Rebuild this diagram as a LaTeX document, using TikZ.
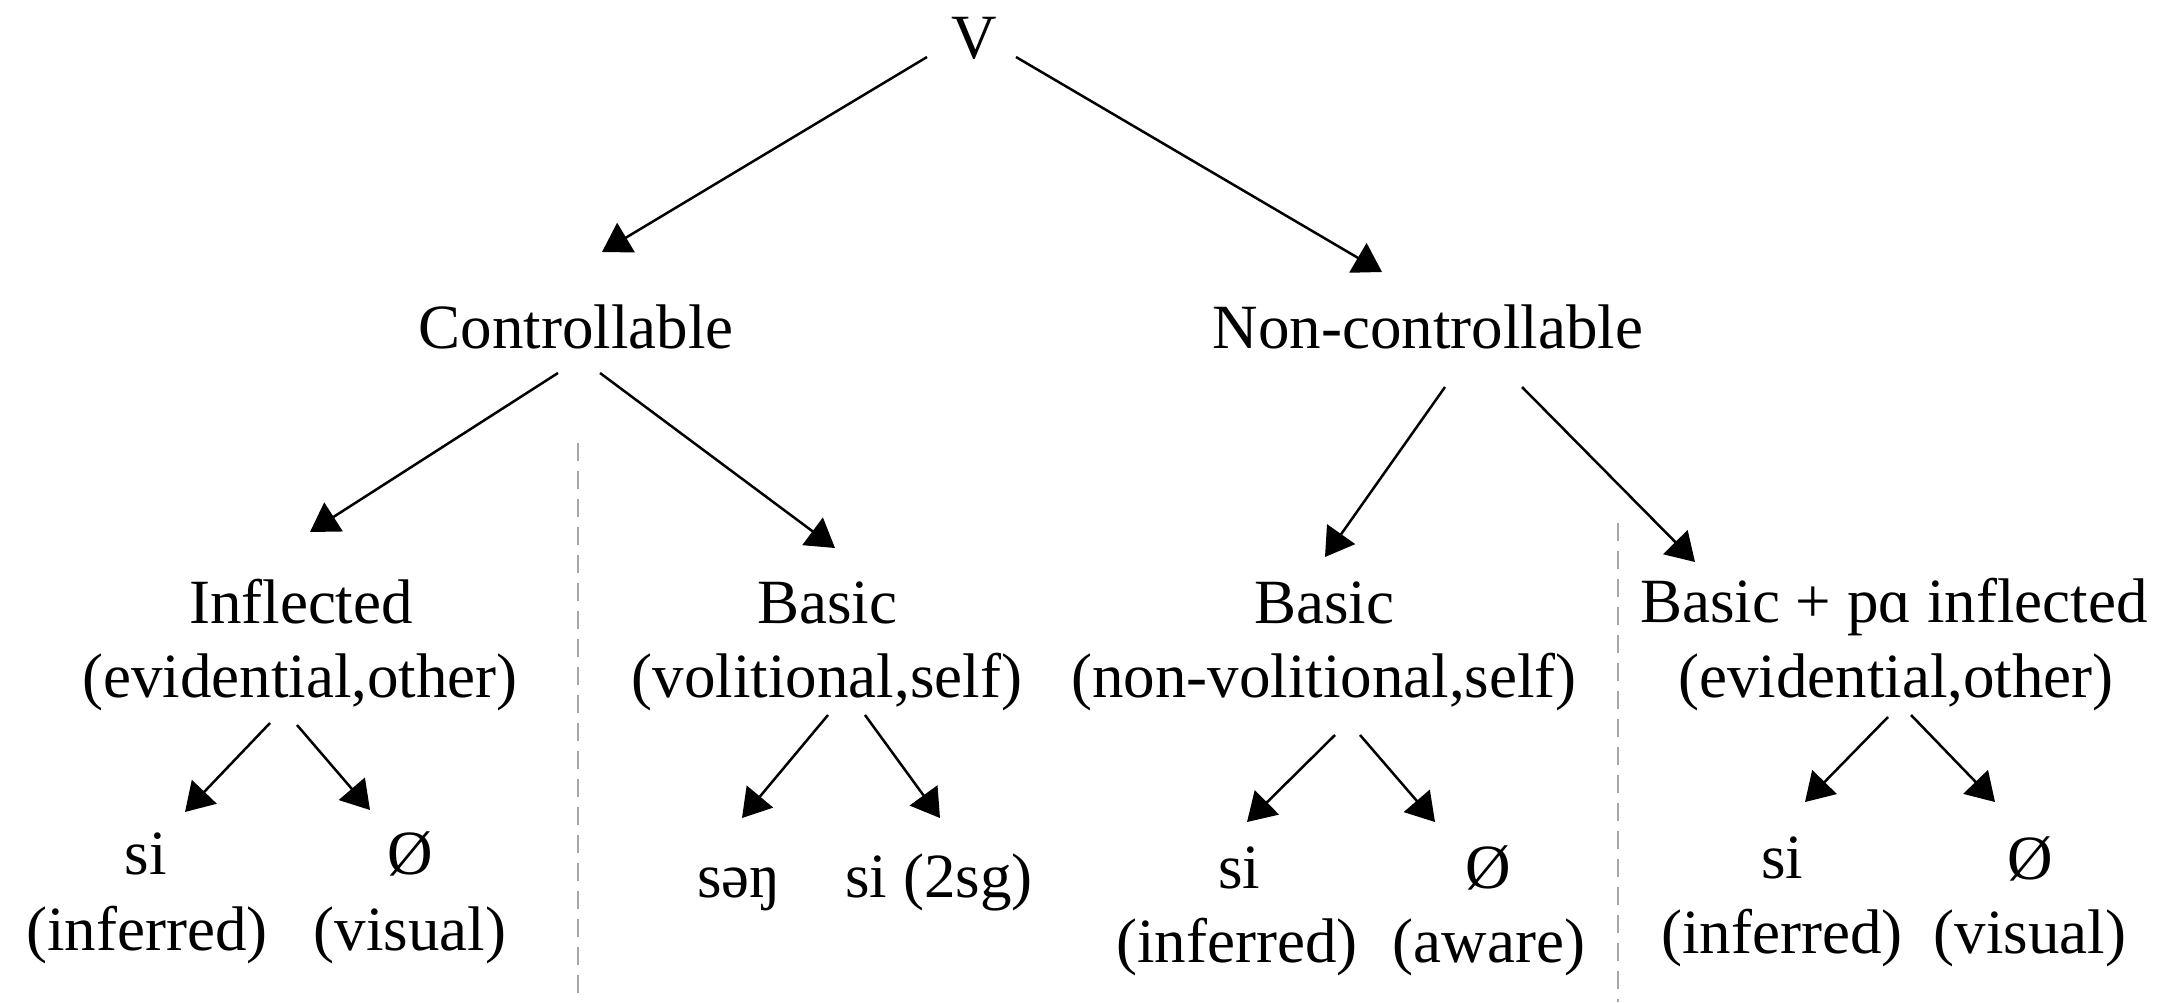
\documentclass[tikz,border=0pt]{standalone}
\usepackage{fontspec}
\setmainfont{Liberation Serif}
\usetikzlibrary{arrows.meta,calc}
\tikzset{
  txt/.style={anchor=base, inner sep=0pt, font=\fontsize{31.5pt}{38pt}\selectfont},
  arr/.style={line width=1.25pt, -{Triangle[length=14pt,width=17pt]}},
  sep/.style={line width=0.8pt, draw=black!35, dash pattern=on 9pt off 5pt}
}
\begin{document}
\begin{tikzpicture}[x=0.5pt,y=-0.5pt]
\useasboundingbox (0,0) rectangle (2163,1002);
% level 0
\node[txt] (V) at (974,58) {V};
% level 1
\node[txt] (ctrl) at (576,348) {Controllable};
\node[txt] (nctrl) at (1428,348) {Non-controllable};
% level 2
\node[txt] (infl) at (301,623) {Inflected};
\node[txt] (inflb) at (300,697) {(evidential,other)};
\node[txt] (basa) at (827,623) {Basic};
\node[txt] (basab) at (827,697) {(volitional,self)};
\node[txt] (basb) at (1324,623) {Basic};
\node[txt] (basbb) at (1324,697) {(non-volitional,self)};
\node[txt] (basc) at (1894,622) {Basic + pɑ inflected};
\node[txt] (bascb) at (1896,697) {(evidential,other)};
% level 3
\node[txt] (sia) at (146,874) {si};
\node[txt] (sial) at (147,950) {(inferred)};
\node[txt] (oa) at (410,874) {Ø};
\node[txt] (oal) at (410,950) {(visual)};
\node[txt] (sen) at (739,897) {səŋ};
\node[txt] (sib) at (939,897) {si (2sg)};
\node[txt] (sic) at (1239,888) {si};
\node[txt] (sicl) at (1237,962) {(inferred)};
\node[txt] (oc) at (1488,888) {Ø};
\node[txt] (ocl) at (1489,962) {(aware)};
\node[txt] (sid) at (1782,878) {si};
\node[txt] (sidl) at (1782,953) {(inferred)};
\node[txt] (od) at (2030,879) {Ø};
\node[txt] (odl) at (2030,953) {(visual)};
% separators
\draw[sep] (578,443) -- (578,1002);
\draw[sep] (1618,523) -- (1618,1002);
% connectors
\draw[arr] ([shift={(-47,-1)}]V.base) -- ([shift={(26,-96)}]ctrl.base);
\draw[arr] ([shift={(42,-1)}]V.base) -- ([shift={(-46,-76)}]nctrl.base);
\draw[arr] ([shift={(-18,25)}]ctrl.base) -- ([shift={(9,-91)}]infl.base);
\draw[arr] ([shift={(24,25)}]ctrl.base) -- ([shift={(8,-75)}]basa.base);
\draw[arr] ([shift={(17,39)}]nctrl.base) -- ([shift={(1,-66)}]basb.base);
\draw[arr] ([shift={(94,39)}]nctrl.base) -- ([shift={(-199,-60)}]basc.base);
\draw[arr] ([shift={(-30,26)}]inflb.base) -- ([shift={(39,-62)}]sia.base);
\draw[arr] ([shift={(-3,28)}]inflb.base) -- ([shift={(-40,-64)}]oa.base);
\draw[arr] ([shift={(1,18)}]basab.base) -- ([shift={(3,-79)}]sen.base);
\draw[arr] ([shift={(38,18)}]basab.base) -- ([shift={(1,-79)}]sib.base);
\draw[arr] ([shift={(11,38)}]basbb.base) -- ([shift={(8,-66)}]sic.base);
\draw[arr] ([shift={(36,38)}]basbb.base) -- ([shift={(-53,-66)}]oc.base);
\draw[arr] ([shift={(-8,20)}]bascb.base) -- ([shift={(23,-76)}]sid.base);
\draw[arr] ([shift={(15,18)}]bascb.base) -- ([shift={(-35,-77)}]od.base);
\end{tikzpicture}
\end{document}
